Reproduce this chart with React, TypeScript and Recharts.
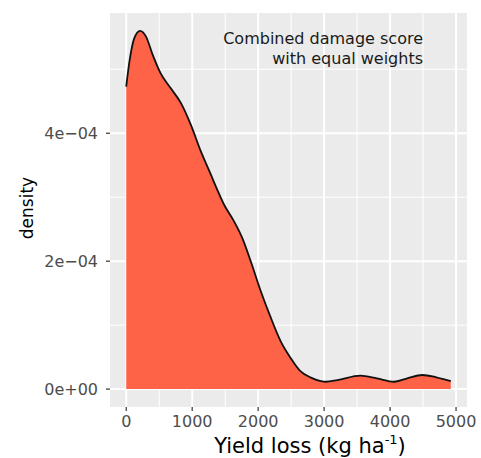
import React from 'react';
import {
  ComposedChart,
  Area,
  Line,
  XAxis,
  YAxis,
  CartesianGrid,
  Customized,
} from 'recharts';

// Yield loss (kg ha^-1) sample positions and the estimated density at each
const yieldLoss = [
  0, 50, 120, 210, 300, 400, 520, 670, 830, 980, 1130, 1280, 1400, 1480, 1630,
  1760, 1890, 2040, 2190, 2340, 2490, 2640, 2800, 2950, 3030, 3200, 3550, 3800,
  4060, 4250, 4490, 4700, 4920,
];
const densityValues = [
  4.73e-4, 5.13e-4, 5.48e-4, 5.6e-4, 5.51e-4, 5.23e-4, 4.94e-4, 4.71e-4,
  4.47e-4, 4.13e-4, 3.72e-4, 3.36e-4, 3.07e-4, 2.89e-4, 2.63e-4, 2.36e-4,
  1.99e-4, 1.53e-4, 1.12e-4, 0.75e-4, 0.49e-4, 0.28e-4, 0.18e-4, 0.125e-4,
  0.115e-4, 0.14e-4, 0.21e-4, 0.168e-4, 0.115e-4, 0.165e-4, 0.22e-4, 0.185e-4,
  0.125e-4,
];

const xTicks = [0, 1000, 2000, 3000, 4000, 5000];
const xMinor = [500, 1500, 2500, 3500, 4500];
const yTicks = [0, 2e-4, 4e-4];
const yTickLabels = ['0e+00', '2e\u221204', '4e\u221204'];
const yMinor = [1e-4, 3e-4, 5e-4];

const annotationLines = ['Combined damage score', 'with equal weights'];
const xTitle = 'Yield loss (kg ha';
const xTitleSup = '-1';
const yTitle = 'density';

const data = yieldLoss.map((x, i) => ({ x, d: densityValues[i] }));

const FONT = 'DejaVu Sans';

const formatY = (v: number) => {
  const i = yTicks.findIndex((t) => Math.abs(t - v) < 1e-9);
  return i >= 0 ? yTickLabels[i] : String(v);
};

const Annotation = () => (
  <g>
    <text x={423} y={44} textAnchor="end" fontFamily={FONT} fontSize={16} fill="#1A1A1A">
      {annotationLines[0]}
    </text>
    <text x={423} y={64} textAnchor="end" fontFamily={FONT} fontSize={16} fill="#1A1A1A">
      {annotationLines[1]}
    </text>
  </g>
);

const XTitle = () => (
  <text x={310} y={453} textAnchor="middle" fontFamily={FONT} fontSize={21} fill="#000000">
    {xTitle}
    <tspan fontSize={13} dy={-9}>
      {xTitleSup}
    </tspan>
    <tspan dy={9}>)</tspan>
  </text>
);

const YTitle = () => (
  <text
    x={33}
    y={208}
    textAnchor="middle"
    fontFamily={FONT}
    fontSize={17}
    fill="#000000"
    transform="rotate(-90 33 208)"
  >
    {yTitle}
  </text>
);

export default function App() {
  return (
    <div style={{ position: 'absolute', left: 0, top: 0, width: 481, height: 458, background: '#ffffff' }}>
      <ComposedChart
        width={481}
        height={458}
        data={data}
        margin={{ top: 13, right: 14, bottom: 11, left: 50 }}
      >
        <CartesianGrid
          fill="#EBEBEB"
          stroke="#FFFFFF"
          strokeWidth={1}
          verticalValues={xMinor}
          horizontalValues={yMinor}
        />
        <CartesianGrid
          stroke="#FFFFFF"
          strokeWidth={2}
          verticalValues={xTicks}
          horizontalValues={yTicks}
        />
        <XAxis
          dataKey="x"
          type="number"
          domain={[-246, 5166]}
          ticks={xTicks}
          allowDataOverflow
          axisLine={false}
          tickLine={{ stroke: '#333333', strokeWidth: 1.2 }}
          tickSize={4}
          tickMargin={5}
          height={40}
          interval={0}
          tick={{ fontFamily: FONT, fontSize: 16, fill: '#4D4D4D' }}
        />
        <YAxis
          type="number"
          domain={[-0.28e-4, 5.88e-4]}
          ticks={yTicks}
          allowDataOverflow
          axisLine={false}
          tickLine={{ stroke: '#333333', strokeWidth: 1.2 }}
          tickSize={4}
          tickMargin={8}
          width={60}
          interval={0}
          tickFormatter={formatY}
          tick={{ fontFamily: FONT, fontSize: 16, fill: '#4D4D4D' }}
        />
        <Area
          dataKey="d"
          type="monotone"
          fill="#FF6347"
          fillOpacity={1}
          stroke="none"
          baseValue={0}
          isAnimationActive={false}
          dot={false}
          activeDot={false}
        />
        <Line
          dataKey="d"
          type="monotone"
          stroke="#111111"
          strokeWidth={1.8}
          dot={false}
          activeDot={false}
          isAnimationActive={false}
        />
        <Customized component={<Annotation />} />
        <Customized component={<XTitle />} />
        <Customized component={<YTitle />} />
      </ComposedChart>
    </div>
  );
}
